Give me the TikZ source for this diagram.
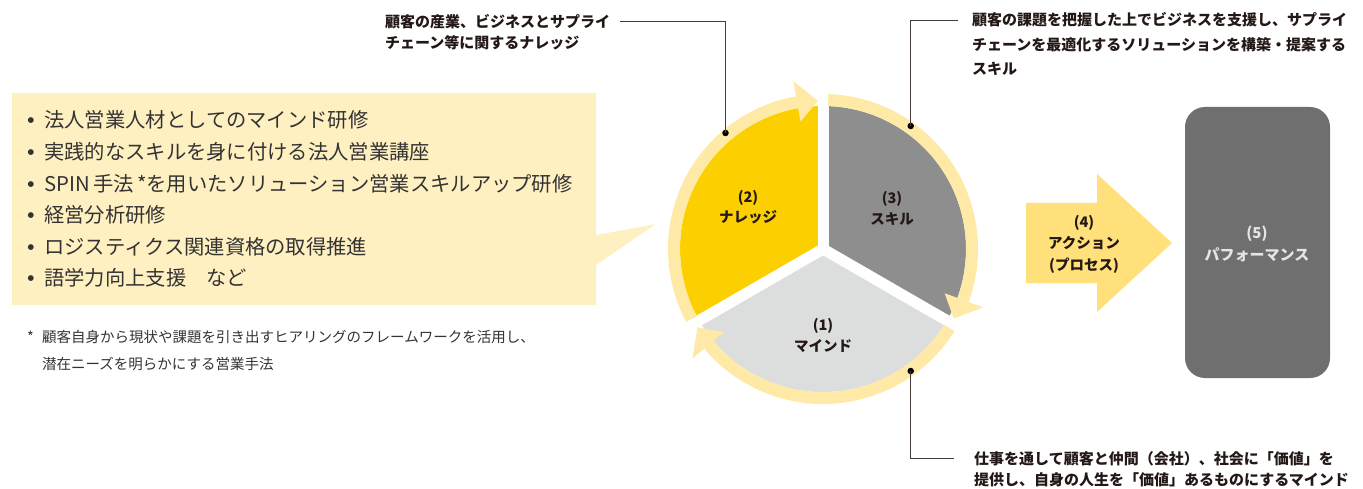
\documentclass[tikz,border=0pt]{standalone}
\usepackage{fontspec}
\setmainfont{Noto Sans CJK JP}
\newfontfamily\symfont{DejaVu Sans}
\usetikzlibrary{calc}
\definecolor{pieY}{HTML}{FCD000}
\definecolor{pieG}{HTML}{8F8E8E}
\definecolor{pieL}{HTML}{DCDDDD}
\definecolor{ringY}{HTML}{FEE9A6}
\definecolor{boxY}{HTML}{FFF0C2}
\definecolor{arrY}{HTML}{FFE07A}
\definecolor{perfG}{HTML}{6F6F6F}
\definecolor{txt}{HTML}{231815}
\definecolor{ltxt}{HTML}{333333}
\newcommand\fsz[1]{\fontsize{#1}{#1}\selectfont}
\begin{document}
\begin{tikzpicture}[x=1pt,y=-1pt,
 lab/.style={font=\fsz{14.5}\bfseries, text=txt, inner sep=0, anchor=base},
 ann/.style={font=\fsz{15}\bfseries, text=txt, inner sep=0, anchor=base west},
 item/.style={font=\fsz{20.3}, text=ltxt, inner sep=0, anchor=base west},
 bul/.style={font=\symfont\fsz{7.5}, text=ltxt, inner sep=0, anchor=center},
 note/.style={font=\fsz{14.5}, text=ltxt, inner sep=0, anchor=base west},
 leader/.style={draw=txt!85, line width=0.9pt},
 dot/.style={circle, fill=black, inner sep=0, minimum size=6.5pt},
 ring/.style={draw=ringY, line width=12pt},
 gap/.style={draw=white, line width=11pt}]
\useasboundingbox (0,0) rectangle (1363,489);

% speech box with pointer
\fill[boxY] (12,93) -- (596,93) -- (596,235) -- (656,224) -- (596,265) -- (596,305) -- (12,305) -- cycle;
\foreach \yy/\tt [count=\i] in {120/法人営業人材としてのマインド研修,
  152/実践的なスキルを身に付ける法人営業講座,
  184/SPIN\,手法\,*を用いたソリューション営業スキルアップ研修,
  215/経営分析研修,
  247/ロジスティクス関連資格の取得推進,
  278/語学力向上支援　など}{
  \node[bul] (b\i) at (31,\yy+0.5) {●};
  \node[item] (l\i) at (44,\yy+7.7) {\tt};
}

% footnote
\node[note] (fn0) at (27,342.5) {*};
\node[note] (fn1) at (42,342.5) {顧客自身から現状や課題を引き出すヒアリングのフレームワークを活用し、};
\node[note] (fn2) at (42,369.5) {潜在ニーズを明らかにする営業手法};

% cycle
\coordinate (C) at (823,249);
\begin{scope}[shift={(C)}]
  \fill[pieY] (0,0) -- (90:143pt) arc[start angle=90,end angle=210,radius=143pt] -- cycle;
  \fill[pieL] (0,0) -- (210:143pt) arc[start angle=210,end angle=330,radius=143pt] -- cycle;
  \fill[pieG] (0,0) -- (-30:143pt) arc[start angle=-30,end angle=90,radius=143pt] -- cycle;
  \draw[gap] (0,0) -- (90:147pt);
  \draw[gap] (0,0) -- (210:147pt);
  \draw[gap] (0,0) -- (330:147pt);
  % rings with arrowheads
  \draw[ring] (208:149pt) arc[start angle=208,end angle=100,radius=149pt];
  \fill[ringY] (92:148pt) -- (100:170.5pt) -- (100:129.5pt) -- cycle;
  \draw[ring] (88:149pt) arc[start angle=88,end angle=-20,radius=149pt];
  \fill[ringY] (-28:148pt) -- (-20:170.5pt) -- (-20:129.5pt) -- cycle;
  \draw[ring] (328:149pt) arc[start angle=328,end angle=220,radius=149pt];
  \fill[ringY] (212:148pt) -- (220:170.5pt) -- (220:129.5pt) -- cycle;
\end{scope}

\node[lab] (k2a) at (748,202.5) {(2)};
\node[lab] (k2b) at (748,223) {ナレッジ};
\node[lab] (k3a) at (892,203.5) {(3)};
\node[lab] (k3b) at (892,224.5) {スキル};
\node[lab] (k1a) at (823,330.5) {(1)};
\node[lab] (k1b) at (823,351.5) {マインド};

% action arrow
\fill[arrY] (1026,203) -- (1097,203) -- (1097,174) -- (1172,243) -- (1097,312) -- (1097,283) -- (1026,283) -- cycle;
\node[lab] (k4a) at (1084,227.5) {(4)};
\node[lab] (k4b) at (1084,248.5) {アクション};
\node[lab] (k4c) at (1084,270) {(プロセス)};

% performance box
\fill[perfG, rounded corners=20pt] (1185,107) rectangle (1330,378);
\node[font=\fsz{15}\bfseries, text=white!90!black, inner sep=0, anchor=base] (k5a) at (1257,238.5) {(5)};
\node[font=\fsz{15}\bfseries, text=white!90!black, inner sep=0, anchor=base] (k5b) at (1257,260.5) {パフォーマンス};

% leaders and annotations
\node[dot] (d2) at (725.5,133) {};
\coordinate (c2) at (725.5,21.5);
\coordinate (e2) at (620,21.5);
\draw[leader] (e2) -- (c2) -- (d2.center);
\node[ann] (t2a) at (385,27.2) {顧客の産業、ビジネスとサプライ};
\node[ann] (t2b) at (385,48.9) {チェーン等に関するナレッジ};

\node[dot] (d3) at (910.7,126) {};
\coordinate (c3) at (910.7,20);
\coordinate (e3) at (958,20);
\draw[leader] (d3.center) -- (c3) -- (e3);
\node[ann] (t3a) at (972,25.7) {顧客の課題を把握した上でビジネスを支援し、サプライ};
\node[ann] (t3b) at (972,50.5) {チェーンを最適化するソリューションを構築・提案する};
\node[ann] (t3c) at (972,74.5) {スキル};

\node[dot] (d1) at (910.7,371) {};
\coordinate (c1) at (910.7,458);
\coordinate (e1) at (954,458);
\draw[leader] (d1.center) -- (c1) -- (e1);
\node[ann] (t1a) at (974,464) {仕事を通して顧客と仲間（会社）、社会に「価値」を};
\node[ann] (t1b) at (974,485) {提供し、自身の人生を「価値」あるものにするマインド};
\end{tikzpicture}
\end{document}
